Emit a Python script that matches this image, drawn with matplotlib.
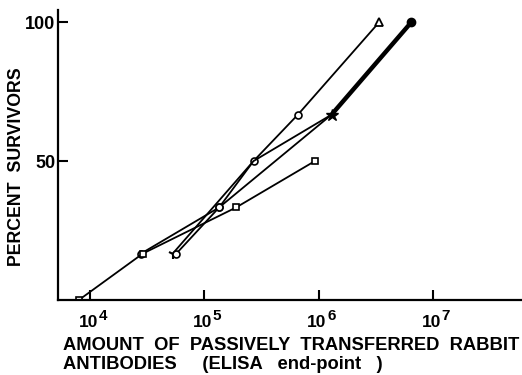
import matplotlib
matplotlib.use("Agg")
import matplotlib.pyplot as plt

plt.rcParams['font.family'] = ['Liberation Sans', 'DejaVu Sans']

# Series A (open triangle end)
a_x = [2.8e4, 1.35e5, 2.7e5, 6.6e5, 3.4e6]
a_y = [16.7, 33.3, 50, 66.7, 100]
# Series B (filled, thick)
b_x = [5.3e4, 2.7e5, 1.3e6, 6.5e6]
b_y = [16.7, 50, 66.7, 100]
# Series C (filled, thick)
c_x = [5.7e4, 1.35e5, 1.3e6, 6.5e6]
c_y = [16.7, 33.3, 66.7, 100]
# Series D (open square)
d_x = [8e3, 2.9e4, 1.9e5, 9.3e5]
d_y = [0, 16.7, 33.3, 50]

xticks = [1e4, 1e5, 1e6, 1e7]
xtick_exps = ['4', '5', '6', '7']
yticks = [50, 100]

fig = plt.figure(figsize=(5.22, 3.75), dpi=100)
ax = fig.add_axes([0.111, 0.2, 0.889, 0.773])

ax.plot(a_x, a_y, color='black', lw=1.3)
ax.plot(a_x[:-1], a_y[:-1], 'o', ms=5, mfc='white', mec='black', mew=1.2)
ax.plot(a_x[-1:], a_y[-1:], '^', ms=6, mfc='white', mec='black', mew=1.3)

ax.plot(b_x, b_y, color='black', lw=1.3)
ax.plot(c_x, c_y, color='black', lw=1.3)
ax.plot(b_x[2:], b_y[2:], color='black', lw=3.2)
ax.plot(b_x[:1], b_y[:1], marker='1', ms=7, color='black', mew=1.5, ls='none')
ax.plot(c_x[:1], c_y[:1], 'o', ms=5, mfc='white', mec='black', mew=1.2)
ax.plot(c_x[1:2], c_y[1:2], 'o', ms=5, mfc='white', mec='black', mew=1.2)
ax.plot(b_x[2:3], b_y[2:3], marker='*', ms=9, color='black', ls='none')
ax.plot(b_x[3:], b_y[3:], 'o', ms=6, color='black')

ax.plot(d_x, d_y, color='black', lw=1.3)
ax.plot(d_x, d_y, 's', ms=5, mfc='white', mec='black', mew=1.2)

ax.set_xscale('log')
ax.set_xlim(10**3.72, 10**7.78)
ax.set_ylim(0, 104.3)
ax.set_xticks(xticks)
ax.set_xticklabels([''] * len(xticks))
ax.minorticks_off()
ax.set_yticks(yticks)
ax.set_yticklabels([str(v) for v in yticks])

for xv, e in zip(xticks, xtick_exps):
    ax.annotate('10', xy=(xv, 0), xycoords=('data', 'axes fraction'),
                xytext=(-1.2, -10.8), textcoords='offset points', ha='center', va='top',
                fontsize=12.5, fontweight='bold', annotation_clip=False)
    ax.annotate(e, xy=(xv, 0), xycoords=('data', 'axes fraction'),
                xytext=(6.2, -6.8), textcoords='offset points', ha='left', va='top',
                fontsize=11, fontweight='bold', annotation_clip=False)

for s in ['top', 'right']:
    ax.spines[s].set_visible(False)
for s in ['left', 'bottom']:
    ax.spines[s].set_linewidth(1.6)

ax.tick_params(axis='x', direction='in', length=7, width=1.5)
ax.tick_params(axis='y', direction='in', length=7, width=1.5, labelsize=13, pad=2)
for lab in ax.get_yticklabels():
    lab.set_fontweight('bold')

fig.text(0.032, 0.555, 'PERCENT  SURVIVORS', rotation=90, ha='center', va='center',
         fontsize=12.8, fontweight='bold')
fig.text(0.12, 0.08, 'AMOUNT  OF  PASSIVELY  TRANSFERRED  RABBIT', ha='left', va='center',
         fontsize=13.2, fontweight='bold')
fig.text(0.12, 0.027, 'ANTIBODIES     (ELISA   end-point   )', ha='left', va='center',
         fontsize=13.2, fontweight='bold')

fig.savefig('out.png', dpi=100)
